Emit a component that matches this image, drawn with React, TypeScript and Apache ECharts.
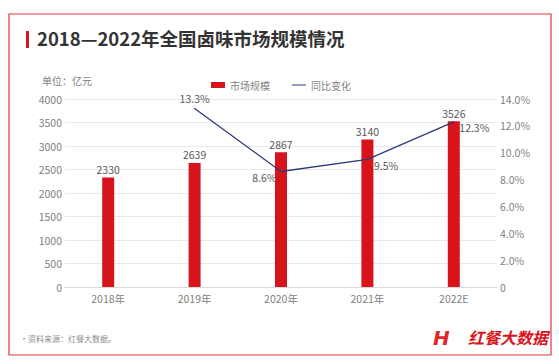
import React, { useEffect, useRef } from "react";
import * as echarts from "echarts";

const categories = ["2018年", "2019年", "2020年", "2021年", "2022E"];
const marketSize = [2330, 2639, 2867, 3140, 3526];
const yoyGrowth = [null, 13.3, 8.6, 9.5, 12.3];
const title = "2018—2022年全国卤味市场规模情况";
const unitText = "单位：亿元";
const sourceText = "•资料来源：红餐大数据。";
const brandText = "红餐大数据";

export default function App() {
  const ref = useRef<HTMLDivElement>(null);
  useEffect(() => {
    if (!ref.current) return;
    const chart = echarts.init(ref.current, null, { renderer: "svg" });
    const font = "'Noto Sans CJK SC', 'Noto Sans', sans-serif";
    const labelPos: any[] = [
      null,
      { position: "top", distance: 4 },
      { position: "left", distance: 4, offset: [0, 6] },
      { position: "right", distance: 6, offset: [0, 6] },
      { position: "right", distance: 5, offset: [0, 6] },
    ];
    chart.setOption({
      animation: false,
      backgroundColor: "#ffffff",
      textStyle: { fontFamily: font },
      graphic: [
        {
          type: "rect",
          shape: { x: 9, y: 14, width: 542, height: 341 },
          style: { fill: "none", stroke: "#e0353b", lineWidth: 1.2 },
        },
        {
          type: "rect",
          shape: { x: 26, y: 31, width: 3, height: 17 },
          style: { fill: "#d7141c" },
        },
        {
          type: "text",
          x: 37,
          y: 29,
          style: { text: title, fontSize: 18.5, fontWeight: "bold", fill: "#333333", fontFamily: font },
        },
        {
          type: "text",
          x: 42,
          y: 75,
          style: { text: unitText, fontSize: 10, fill: "#7f7f7f", fontFamily: font },
        },
        {
          type: "text",
          x: 20,
          y: 334,
          style: { text: sourceText, fontSize: 8, fill: "#8c8c8c", fontFamily: font },
        },
        {
          type: "text",
          x: 433,
          y: 328,
          style: { text: "H", fontSize: 20, fontWeight: "bold", fontStyle: "italic", fill: "#e0262d", fontFamily: "'DejaVu Sans', sans-serif" },
        },
        {
          type: "text",
          x: 468,
          y: 329,
          style: { text: brandText, fontSize: 16, fontWeight: "bold", fontStyle: "italic", fill: "#d7141c", fontFamily: font },
        },
        {
          type: "text",
          x: 30,
          y: 120,
          rotation: Math.PI / 6,
          style: { text: "红餐大数据", fontSize: 24, fontWeight: "bold", fill: "rgba(0,0,0,0.022)", fontFamily: font },
        },
        {
          type: "text",
          x: 230,
          y: 170,
          rotation: Math.PI / 6,
          style: { text: "红餐大数据", fontSize: 28, fontWeight: "bold", fill: "rgba(0,0,0,0.022)", fontFamily: font },
        },
        {
          type: "text",
          x: 20,
          y: 300,
          rotation: Math.PI / 6,
          style: { text: "大数据", fontSize: 28, fontWeight: "bold", fill: "rgba(0,0,0,0.022)", fontFamily: font },
        },
      ],
      legend: {
        left: 206,
        top: 75,
        itemGap: 22,
        itemWidth: 14,
        itemHeight: 6,
        textStyle: { fontSize: 10, color: "#7f7f7f", fontFamily: font },
        data: [
          { name: "市场规模", icon: "rect", itemStyle: { color: "#d7141c" } },
          { name: "同比变化", icon: "path://M0,0 L14,0 L14,1 L0,1 Z" },
        ],
      },
      grid: { left: 65, right: 62, top: 99, bottom: 77 },
      xAxis: {
        type: "category",
        data: categories,
        axisLine: { show: true, lineStyle: { color: "#d9d9d9" } },
        axisTick: { show: false },
        axisLabel: { color: "#7f7f7f", fontSize: 10.5, margin: 6, fontFamily: font },
      },
      yAxis: [
        {
          type: "value",
          min: 0,
          max: 4000,
          interval: 500,
          axisLine: { show: false },
          axisTick: { show: false },
          axisLabel: {
            color: "#7f7f7f",
            fontSize: 10.5,
            margin: 3,
            fontFamily: font,
            formatter: (v: number) => String(v),
          },
          splitLine: { lineStyle: { color: "#e8e8e8" } },
        },
        {
          type: "value",
          min: 0,
          max: 14,
          interval: 2,
          axisLine: { show: false },
          axisTick: { show: false },
          splitLine: { show: false },
          axisLabel: {
            color: "#7f7f7f",
            fontSize: 10.5,
            margin: 3,
            fontFamily: font,
            formatter: (v: number) => (v === 0 ? "0" : v.toFixed(1) + "%"),
          },
        },
      ],
      series: [
        {
          name: "市场规模",
          type: "bar",
          data: marketSize,
          barWidth: 12,
          itemStyle: { color: "#d7141c" },
          label: { show: true, position: "top", color: "#595959", fontSize: 10.5, distance: 3, fontFamily: font },
        },
        {
          name: "同比变化",
          type: "line",
          yAxisIndex: 1,
          data: yoyGrowth.map((v, i) =>
            v === null
              ? null
              : {
                  value: v,
                  label: {
                    show: true,
                    ...labelPos[i],
                  },
                }
          ),
          symbol: "circle",
          symbolSize: 1,
          showSymbol: true,
          label: {
            show: true,
            formatter: (p: any) => Number(p.value).toFixed(1) + "%",
            color: "#595959",
            fontSize: 10.5,
            fontFamily: font,
          },
          lineStyle: { color: "#2e3a78", width: 1.3 },
          itemStyle: { color: "#2e3a78" },
        },
      ],
    });
    return () => chart.dispose();
  }, []);
  return (
    <div
      ref={ref}
      style={{ position: "fixed", left: 0, top: 0, width: 559, height: 364, background: "#fff" }}
    />
  );
}
